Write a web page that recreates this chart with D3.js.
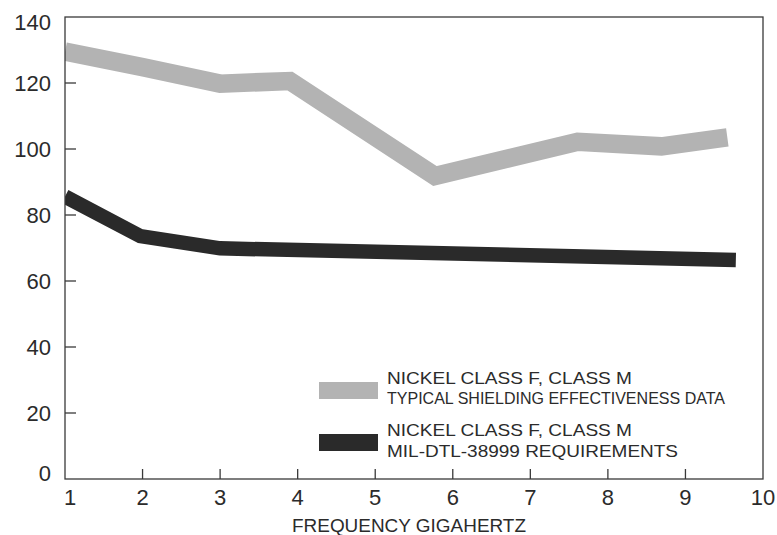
<!DOCTYPE html>
<html>
<head>
<meta charset="utf-8">
<script src="https://cdn.jsdelivr.net/npm/d3@7"></script>
<style>
  body { margin: 0; background: #fff; }
  text { font-family: "Liberation Sans", Arial, sans-serif; fill: #2b2b2b; }
</style>
</head>
<body>
<div id="chart"></div>
<script>
// data (frequency GHz, shielding dB)
var typicalFreq = [1, 2, 3, 3.9, 5.77, 7.61, 8.69, 9.54];
var typicalDb   = [129.5, 124.8, 119.8, 120.6, 91.8, 102.2, 100.8, 103.5];
var milFreq = [1, 1.97, 3, 9.65];
var milDb   = [85.6, 73.6, 69.9, 66.4];
var xTicks = [1, 2, 3, 4, 5, 6, 7, 8, 9, 10];
var yTicks = [0, 20, 40, 60, 80, 100, 120, 140];
var legendRows = [
    {color: '#b3b3b3', line1: 'NICKEL CLASS F, CLASS M', line2: 'TYPICAL SHIELDING EFFECTIVENESS DATA', len2: 338},
    {color: '#2a2a2a', line1: 'NICKEL CLASS F, CLASS M', line2: 'MIL-DTL-38999 REQUIREMENTS', len2: 291}
];

var W = 777, H = 535;
var plotL = 65, plotR = 763, plotT = 17, plotB = 479;

var svg = d3.select('#chart').append('svg').attr('width', W).attr('height', H);

var x = d3.scaleLinear().domain([1, 10]).range([plotL, plotR]);
var y = d3.scaleLinear().domain([0, 140]).range([plotB, plotT]);

svg.append('clipPath').attr('id', 'plot')
    .append('rect').attr('x', plotL).attr('y', plotT)
    .attr('width', plotR - plotL).attr('height', plotB - plotT);

var line = d3.line().x(function(d){ return x(d[0]); }).y(function(d){ return y(d[1]); });

function series(fs, vs){
    return fs.map(function(f, i){ return [f, vs[i]]; });
}

svg.append('path')
    .attr('d', line(series(typicalFreq, typicalDb)))
    .attr('fill', 'none')
    .attr('stroke', '#b3b3b3')
    .attr('stroke-width', 18.5)
    .attr('stroke-linejoin', 'miter')
    .attr('clip-path', 'url(#plot)');

svg.append('path')
    .attr('d', line(series(milFreq, milDb)))
    .attr('fill', 'none')
    .attr('stroke', '#2a2a2a')
    .attr('stroke-width', 14.5)
    .attr('stroke-linejoin', 'miter')
    .attr('clip-path', 'url(#plot)');

// frame
svg.append('rect')
    .attr('x', plotL).attr('y', plotT)
    .attr('width', plotR - plotL).attr('height', plotB - plotT)
    .attr('fill', 'none').attr('stroke', '#3a3a3a').attr('stroke-width', 1.3);

// inward ticks
svg.append('g').selectAll('line').data(yTicks.slice(1, -1)).enter().append('line')
    .attr('x1', plotL).attr('x2', plotL + 11)
    .attr('y1', function(d){ return y(d); }).attr('y2', function(d){ return y(d); })
    .attr('stroke', '#3a3a3a').attr('stroke-width', 1.3);

svg.append('g').selectAll('line').data(xTicks.slice(1, -1)).enter().append('line')
    .attr('x1', function(d){ return x(d); }).attr('x2', function(d){ return x(d); })
    .attr('y1', plotB).attr('y2', plotB - 10)
    .attr('stroke', '#3a3a3a').attr('stroke-width', 1.3);

// tick labels
svg.append('g').selectAll('text').data(yTicks).enter().append('text')
    .attr('x', 51)
    .attr('y', function(d){
        var yy = y(d);
        if (d == 140) yy += 5;
        if (d == 0) yy -= 6;
        return yy;
    })
    .attr('dy', '0.35em')
    .attr('text-anchor', 'end')
    .attr('font-size', 22)
    .text(function(d){ return d; });

svg.append('g').selectAll('text').data(xTicks).enter().append('text')
    .attr('x', function(d){ return d == 1 ? x(d) + 5 : x(d); })
    .attr('y', 505)
    .attr('text-anchor', 'middle')
    .attr('font-size', 22)
    .text(function(d){ return d; });

svg.append('text')
    .attr('x', 292).attr('y', 532)
    .attr('font-size', 17.5)
    .attr('textLength', 234).attr('lengthAdjust', 'spacingAndGlyphs')
    .text('FREQUENCY GIGAHERTZ');

// legend
var lg = svg.append('g').selectAll('g').data(legendRows).enter().append('g')
    .attr('transform', function(d, i){ return 'translate(0,' + (i * 52) + ')'; });

lg.append('rect')
    .attr('x', 319).attr('y', 382)
    .attr('width', 59).attr('height', 17)
    .attr('fill', function(d){ return d.color; });

lg.append('text')
    .attr('x', 387).attr('y', 384)
    .attr('font-size', 17)
    .attr('textLength', 245).attr('lengthAdjust', 'spacingAndGlyphs')
    .text(function(d){ return d.line1; });

lg.append('text')
    .attr('x', 387).attr('y', function(d, i){ return i == 0 ? 404 : 405; })
    .attr('font-size', 17)
    .attr('textLength', function(d){ return d.len2; }).attr('lengthAdjust', 'spacingAndGlyphs')
    .text(function(d){ return d.line2; });
</script>
</body>
</html>
